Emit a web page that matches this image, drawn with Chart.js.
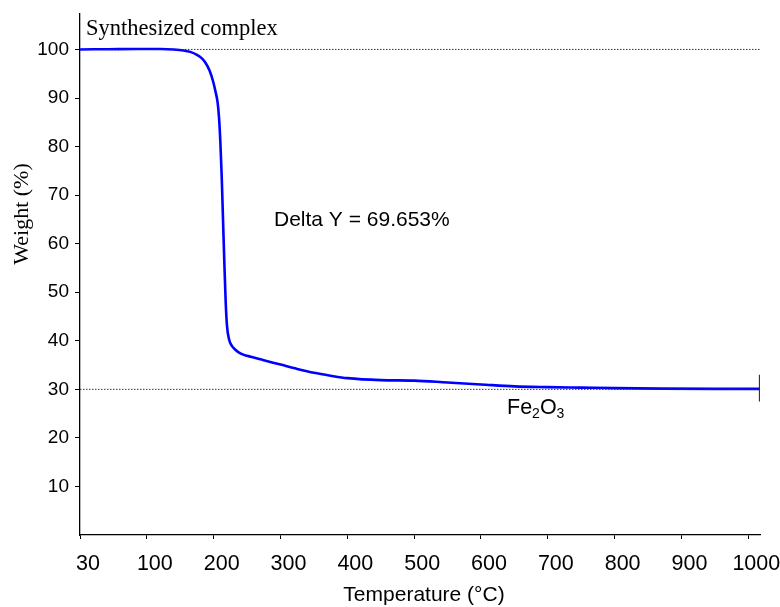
<!DOCTYPE html>
<html>
<head>
<meta charset="utf-8">
<script src="https://cdn.jsdelivr.net/npm/chart.js@4.4.1/dist/chart.umd.min.js"></script>
<style>
html,body{margin:0;padding:0;background:#fff;}
#wrap{width:780px;height:607px;position:relative;}
</style>
</head>
<body>
<div id="wrap"><canvas id="c" width="780" height="607"></canvas></div>
<script>
// ---- data ----
const xTickLabels = ['30','100','200','300','400','500','600','700','800','900','1000'];
const tempC = [30, 60, 90, 120, 140, 155, 165, 175, 182, 188, 194, 199, 203, 206, 208, 210, 212, 214, 216, 218, 220, 223, 227, 232, 240, 250, 275, 300, 325, 350, 375, 400, 450, 500, 550, 600, 650, 700, 750, 800, 870, 950, 1017];
const weightPct = [100.0, 100.05, 100.1, 100.1, 100.0, 99.8, 99.5, 98.9, 98.2, 97.2, 95.6, 93.5, 91.2, 89.0, 86.0, 81.0, 74.0, 65.0, 56.0, 48.0, 43.0, 40.3, 39.0, 38.2, 37.4, 36.9, 36.0, 35.1, 34.2, 33.4, 32.8, 32.3, 31.9, 31.8, 31.4, 31.0, 30.6, 30.45, 30.35, 30.25, 30.15, 30.1, 30.1];
const refLevels = [100, 30];          // dotted reference lines (Weight %)
const endMarkRange = [33.0, 27.5];    // vertical end mark (Weight %)
const yTickValues = [10,20,30,40,50,60,70,80,90,100];

// axis position: 30 -> 0, 100 -> 1, 200 -> 2 ... 1000 -> 10 (evenly spaced labels)
function pos(T){ return T <= 100 ? (T - 30) / 70 : T / 100; }

const curve = tempC.map((t,i)=>({x:pos(t), y:weightPct[i]}));
const tEnd = tempC[tempC.length-1];
const refSets = refLevels.map(v=>({
  data:[{x:pos(30),y:v},{x:pos(tEnd),y:v}],
  borderColor:'#333', borderWidth:1, borderDash:[1.5,1.5], pointRadius:0, fill:false, tension:0
}));

const SANS = '"Liberation Sans", Arial, sans-serif';
const SERIF = '"Liberation Serif", "Times New Roman", serif';

const textPlugin = {
  id:'texts',
  afterDraw(chart){
    const c = chart.ctx;
    c.save();
    c.fillStyle = '#000';
    c.textBaseline = 'alphabetic';
    c.textAlign = 'left';
    c.font = '22.5px ' + SERIF;
    c.fillText('Synthesized complex', 86, 35);
    c.font = '21px ' + SANS;
    c.textBaseline = 'middle';
    c.fillText('Delta Y = 69.653%', 274, 220);
    // Fe2O3
    c.textBaseline = 'alphabetic';
    let x = 507, by = 414;
    const big = '21.5px ' + SANS;
    const small = '14px ' + SANS;
    [['Fe',big,0],['2',small,4],['O',big,0],['3',small,4]].forEach(([s,f,dy])=>{
      c.font = f; c.fillText(s, x, by+dy); x += c.measureText(s).width;
    });
    // axis titles
    c.textAlign = 'center';
    c.textBaseline = 'middle';
    c.font = '21px ' + SANS;
    c.fillText('Temperature (°C)', 424, 595);
    c.translate(22, 214);
    c.rotate(-Math.PI/2);
    c.font = '22px ' + SERIF;
    c.fillText('Weight (%)', 0, 0);
    c.restore();
  }
};

new Chart(document.getElementById('c'), {
  type:'line',
  data:{
    datasets:[
      ...refSets,
      {data:curve, borderColor:'#0000ff', borderWidth:2.6, pointRadius:0, fill:false,
       cubicInterpolationMode:'monotone'},
      {data:[{x:pos(tEnd),y:endMarkRange[0]},{x:pos(tEnd),y:endMarkRange[1]}],
       borderColor:'#333', borderWidth:1.6, pointRadius:0, fill:false, tension:0}
    ]
  },
  options:{
    responsive:false, animation:false, devicePixelRatio:1,
    layout:{padding:{top:14,right:20,left:0,bottom:0}},
    plugins:{legend:{display:false}, tooltip:{enabled:false}},
    scales:{
      x:{
        type:'linear', min:0, max:pos(tEnd)+0.005,
        afterBuildTicks(s){ s.ticks = xTickLabels.map((l,i)=>({value:i})); },
        afterFit(s){ s.height = 72; s.paddingLeft = 0; s.paddingRight = 0; },
        ticks:{ callback:(v,i)=>xTickLabels[i], color:'#000', font:{family:SANS, size:21.5},
                maxRotation:0, autoSkip:false, padding:12, labelOffset:8 },
        grid:{ drawOnChartArea:false, drawTicks:true, tickLength:4, color:'#000', tickWidth:1 },
        border:{ display:true, color:'#000', width:1.3 }
      },
      y:{
        type:'linear', min:0, max:107.3,
        afterBuildTicks(s){ s.ticks = yTickValues.map(v=>({value:v})); },
        afterFit(s){ s.width = 80; s.paddingTop = 0; s.paddingBottom = 0; },
        ticks:{ color:'#000', font:{family:SANS, size:19}, padding:6 },
        grid:{ drawOnChartArea:false, drawTicks:true, tickLength:5, color:'#000', tickWidth:1 },
        border:{ display:true, color:'#000', width:1.3 }
      }
    }
  },
  plugins:[textPlugin]
});
</script>
</body>
</html>
